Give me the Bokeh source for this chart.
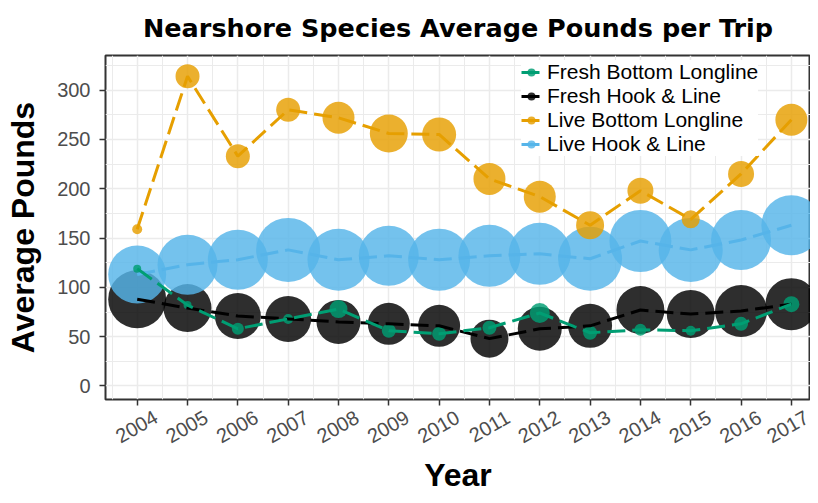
import math
from bokeh.plotting import figure
from bokeh.models import (ColumnDataSource, FixedTicker, Legend, LegendItem, Range1d)
from bokeh.embed import file_html
from bokeh.resources import INLINE

# ---------------- data ----------------
years = list(range(2004, 2018))
year_labels = [str(y) for y in years]

fresh_bottom_longline = [119, 82, 58, 68, 78, 56, 53, 59, 74, 54, 57, 56, 63, 83]
fresh_hook_line = [88, 79, 71, 68, 65, 63, 61, 48, 58, 61, 77, 73, 76, 83]
live_bottom_longline = [159, 314, 233, 280, 272, 256, 255, 210, 192, 163, 198, 169, 215, 270]
live_hook_line = [113, 123, 128, 138, 128, 132, 128, 132, 134, 129, 147, 138, 148, 163]

# bubble sizes (marker diameter)
fresh_bottom_longline_size = [8, 8, 12, 10, 18, 14, 14, 14, 20, 14, 12, 10, 14, 16]
fresh_hook_line_size = [58, 48, 46, 46, 44, 42, 42, 38, 44, 44, 48, 48, 52, 52]
live_bottom_longline_size = [10, 24, 24, 24, 32, 38, 34, 32, 32, 28, 26, 18, 26, 32]
live_hook_line_size = [58, 60, 60, 64, 62, 60, 62, 62, 62, 64, 62, 64, 60, 60]

series_names = ["Fresh Bottom Longline", "Fresh Hook & Line",
                "Live Bottom Longline", "Live Hook & Line"]
series_colors = ["#009E73", "#000000", "#E69F00", "#56B4E9"]

y_ticks = [0, 50, 100, 150, 200, 250, 300]
y_minor_ticks = [25, 75, 125, 175, 225, 275, 325]
x_minor_ticks = [y - 0.5 for y in years] + [years[-1] + 0.5]

# ---------------- figure ----------------
p = figure(width=810, height=495, output_backend="svg", toolbar_location=None,
           x_range=Range1d(2003.37, 2017.38), y_range=Range1d(-13.7, 335.1),
           min_border_left=105, min_border_right=0, min_border_top=55,
           min_border_bottom=92, background_fill_color="white",
           border_fill_color="white")

p.title.text = "Nearshore Species Average Pounds per Trip"
p.title.text_font = "DejaVu Sans"
p.title.text_font_style = "bold"
p.title.text_font_size = "25.5px"
p.title.text_color = "black"
p.title.align = "center"
p.title.vertical_align = "top"
p.title.standoff = 22

p.outline_line_color = "#333333"
p.outline_line_width = 2

# grid (at the years and half-years)
p.xgrid.ticker = FixedTicker(ticks=years, minor_ticks=x_minor_ticks)
p.ygrid.ticker = FixedTicker(ticks=y_ticks, minor_ticks=y_minor_ticks)
for g in (p.xgrid, p.ygrid):
    g.grid_line_color = "#EBEBEB"
    g.grid_line_width = 1.5
    g.minor_grid_line_color = "#EBEBEB"
    g.minor_grid_line_width = 1

# x axis: tick marks at the years (minor ticks), rotated labels centred under them
label_pos = [y + 0.37 for y in years]
xa = p.xaxis[0]
xa.ticker = FixedTicker(ticks=label_pos, minor_ticks=years)
xa.major_label_overrides = {lp: lab for lp, lab in zip(label_pos, year_labels)}
xa.major_label_orientation = math.pi / 6
xa.major_tick_out = 0
xa.major_tick_in = 0
xa.major_tick_line_color = None
xa.minor_tick_out = 6
xa.minor_tick_in = 0
xa.minor_tick_line_color = "#333333"
xa.minor_tick_line_width = 1.5
xa.axis_line_color = None
xa.major_label_standoff = 10
xa.major_label_text_font = "Liberation Sans"
xa.major_label_text_font_size = "20px"
xa.major_label_text_color = "#4D4D4D"
xa.axis_label = "Year"
xa.axis_label_standoff = 4
xa.axis_label_text_font = "Liberation Sans"
xa.axis_label_text_font_style = "bold"
xa.axis_label_text_font_size = "32px"
xa.axis_label_text_color = "black"

# y axis
ya = p.yaxis[0]
ya.ticker = FixedTicker(ticks=y_ticks, minor_ticks=y_minor_ticks)
ya.major_label_text_font = "Liberation Sans"
ya.major_label_text_font_size = "20px"
ya.major_label_text_color = "#4D4D4D"
ya.major_tick_out = 6
ya.major_tick_in = 0
ya.minor_tick_out = 0
ya.minor_tick_in = 0
ya.major_label_standoff = 9
ya.axis_line_color = None
ya.major_tick_line_color = "#333333"
ya.major_tick_line_width = 1.5
ya.axis_label = "Average Pounds"
ya.axis_label_standoff = 13
ya.axis_label_text_font = "Liberation Sans"
ya.axis_label_text_font_style = "bold"
ya.axis_label_text_font_size = "32px"
ya.axis_label_text_color = "black"

# ---------------- glyphs ----------------
values = [fresh_bottom_longline, fresh_hook_line, live_bottom_longline, live_hook_line]
sizes = [fresh_bottom_longline_size, fresh_hook_line_size,
         live_bottom_longline_size, live_hook_line_size]
sources = [ColumnDataSource(dict(year=years, value=v, size=s)) for v, s in zip(values, sizes)]

draw_order = [1, 3, 2, 0]  # black, blue, orange, green
pts = {}
for i in draw_order:
    pts[i] = p.scatter("year", "value", size="size", source=sources[i],
                       fill_color=series_colors[i], fill_alpha=0.82, line_color=None)
lines = {}
for i in draw_order:
    lines[i] = p.line("year", "value", source=sources[i], line_color=series_colors[i],
                      line_width=3, line_dash="18 7")

legend = Legend(items=[LegendItem(label=series_names[i], renderers=[lines[i], pts[i]])
                       for i in range(4)],
                location=(416, 243), background_fill_color="white",
                background_fill_alpha=1.0, border_line_color=None,
                label_text_font="Liberation Sans", label_text_font_size="21px",
                label_text_color="black", glyph_width=20, glyph_height=22,
                label_height=22, spacing=0, padding=2, margin=0, label_standoff=6)
p.add_layout(legend)

open("out.html", "w").write(file_html(p, INLINE))
